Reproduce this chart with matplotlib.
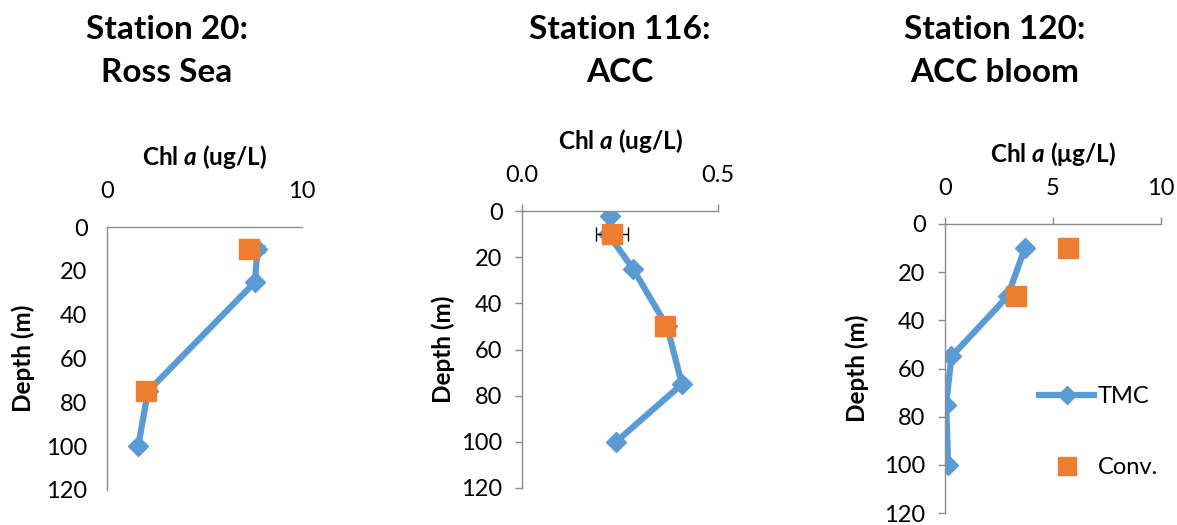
import matplotlib
matplotlib.use("Agg")
import matplotlib.pyplot as plt

plt.rcParams["font.family"] = ["Lato", "DejaVu Sans"]
plt.rcParams["mathtext.fontset"] = "custom"
plt.rcParams["mathtext.it"] = "Lato:italic:bold"
plt.rcParams["mathtext.rm"] = "Lato:bold"

BLUE = "#5B9BD5"
ORANGE = "#ED7D31"
GRAY = "#8C8C8C"

# Station 20: Ross Sea
s20_tmc_depth = [10, 25, 75, 100]
s20_tmc_chl = [7.7, 7.6, 2.1, 1.6]
s20_tmc_err = [0.35, 0, 0, 0]
s20_conv_depth = [10, 75]
s20_conv_chl = [7.3, 2.0]

# Station 116: ACC
s116_tmc_depth = [2, 10, 25, 50, 75, 100]
s116_tmc_chl = [0.225, 0.22, 0.283, 0.37, 0.408, 0.24]
s116_tmc_err = [0, 0, 0.01, 0, 0.01, 0.005]
s116_conv_depth = [10, 50]
s116_conv_chl = [0.23, 0.365]
s116_conv_err = [0.04, 0.01]

# Station 120: ACC bloom
s120_tmc_depth = [10, 30, 55, 75, 100]
s120_tmc_chl = [3.7, 2.9, 0.3, 0.05, 0.15]
s120_conv_depth = [10, 30]
s120_conv_chl = [5.7, 3.3]

titles = ["Station 20:\nRoss Sea", "Station 116:\nACC", "Station 120:\nACC bloom"]
xlabels = [r"Chl $a$ (ug/L)", r"Chl $a$ (ug/L)", r"Chl $a$ (μg/L)"]

W, H = 1177, 525
fig = plt.figure(figsize=(W / 100, H / 100), dpi=100)


def add_panel(left, right, top, bottom):
    return fig.add_axes([left / W, 1 - bottom / H, (right - left) / W, (bottom - top) / H])


def style(ax, xlim, xticks, xticklabels, xlabel, tick_len, ylab_off):
    ax.set_xlim(*xlim)
    ax.set_ylim(120, 0)
    ax.set_xticks(xticks)
    ax.set_xticklabels(xticklabels)
    ax.set_yticks(range(0, 121, 20))
    ax.xaxis.tick_top()
    ax.xaxis.set_label_position("top")
    for side in ("right", "bottom"):
        ax.spines[side].set_visible(False)
    for side in ("left", "top"):
        ax.spines[side].set_color(GRAY)
        ax.spines[side].set_linewidth(1.0)
    ax.tick_params(axis="both", labelsize=17, colors=GRAY, labelcolor="black",
                   length=tick_len, width=1.0, direction="out")
    ax.tick_params(axis="x", pad=18 - tick_len)
    ax.tick_params(axis="y", pad=14 - tick_len)
    bb = ax.get_position()
    hpx = bb.height * H
    wpx = bb.width * W
    ax.set_xlabel(xlabel, fontsize=17.5, fontweight="bold")
    ax.xaxis.set_label_coords(0.5, 1 + 70 / hpx)
    ax.xaxis.label.set_va("center")
    ax.set_ylabel("Depth (m)", fontsize=17.5, fontweight="bold")
    ax.yaxis.set_label_coords(-ylab_off / wpx, 0.5)
    ax.yaxis.label.set_va("center")


line_kw = dict(color=BLUE, linewidth=4.5, marker="D", markersize=10.5,
               ecolor="black", elinewidth=1.0, capsize=3, zorder=2)
sq_kw = dict(color=ORANGE, marker="s", markersize=14, linestyle="none", zorder=3)

# Panel 1
ax1 = add_panel(107, 302, 227, 490)
ax1.errorbar(s20_tmc_chl, s20_tmc_depth, xerr=s20_tmc_err, **line_kw)
ax1.plot(s20_conv_chl, s20_conv_depth, **sq_kw)
style(ax1, (0, 10), [0, 10], ["0", "10"], xlabels[0], 0, 84)

# Panel 2
ax2 = add_panel(522, 718, 211, 488)
ax2.errorbar(s116_tmc_chl, s116_tmc_depth, xerr=s116_tmc_err, **line_kw)
ax2.errorbar(s116_conv_chl, s116_conv_depth, xerr=s116_conv_err, ecolor="black",
             elinewidth=1.0, capsize=5, **sq_kw)
style(ax2, (0, 0.5), [0, 0.5], ["0.0", "0.5"], xlabels[1], 5, 79)

# Panel 3
ax3 = add_panel(945, 1161, 224, 513)
ax3.plot(s120_tmc_chl, s120_tmc_depth, color=BLUE, linewidth=4.5, marker="D",
         markersize=10.5, label="TMC", zorder=2)
ax3.plot(s120_conv_chl, s120_conv_depth, label="Conv.", **sq_kw)
style(ax3, (0, 10), [0, 5, 10], ["0", "5", "10"], xlabels[2], 5, 88)
ax3.legend(loc="center left", bbox_to_anchor=(1027 / W, 1 - 432 / H),
           bbox_transform=fig.transFigure, frameon=False, fontsize=17,
           borderpad=0, handlelength=2.35, handletextpad=0.15, labelspacing=2.1,
           markerscale=0.9)

# Titles
for x, t in zip([167, 620, 995], titles):
    fig.text(x / W, 1 - 51 / H, t, ha="center", va="center", fontsize=24,
             fontweight="bold", linespacing=1.6)

fig.savefig("out.png", dpi=100)
